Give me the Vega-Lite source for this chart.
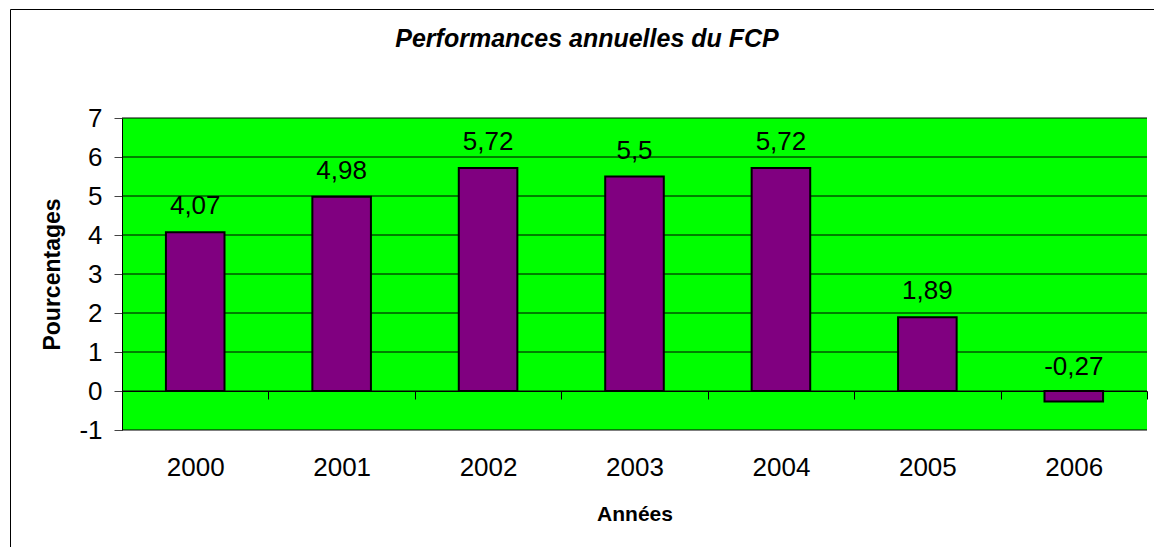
{
  "$schema": "https://vega.github.io/schema/vega-lite/v6.json",
  "width": 1154,
  "height": 548,
  "autosize": {"type": "none"},
  "padding": {"left": 10, "top": 9, "right": -10, "bottom": -10},
  "background": "white",
  "title": {
    "text": "Performances annuelles du FCP",
    "font": "Liberation Sans",
    "fontSize": 25,
    "fontStyle": "italic",
    "fontWeight": "bold",
    "color": "black",
    "anchor": "middle",
    "frame": "group",
    "orient": "top",
    "offset": 0,
    "baseline": "alphabetic",
    "dy": 63
  },
  "config": {
    "view": {"fill": "white", "stroke": "black", "strokeWidth": 1},
    "font": "Liberation Sans",
    "locale": {"number": {"decimal": ",", "thousands": " ", "grouping": [3], "currency": ["", ""], "minus": "-"}}
  },
  "datasets": {
    "perf": [
      {"year": "2000", "value": 4.07},
      {"year": "2001", "value": 4.98},
      {"year": "2002", "value": 5.72},
      {"year": "2003", "value": 5.5},
      {"year": "2004", "value": 5.72},
      {"year": "2005", "value": 1.89},
      {"year": "2006", "value": -0.27}
    ],
    "grid": [
      {"g": -1}, {"g": 0}, {"g": 1}, {"g": 2}, {"g": 3}, {"g": 4}, {"g": 5}, {"g": 6}, {"g": 7}
    ]
  },
  "resolve": {"scale": {"x": "independent"}},
  "layer": [
    {
      "data": {"values": [{"area": "plot"}]},
      "mark": {"type": "rect", "fill": "#00FF00"},
      "encoding": {
        "x": {"datum": 0, "type": "quantitative", "scale": {"domain": [0, 1], "range": [112, 1137]}, "axis": null},
        "x2": {"datum": 1},
        "y": {"datum": -1, "type": "quantitative", "scale": {"domain": [-1, 7], "range": [421, 109], "nice": false, "zero": false}, "axis": {"title": "Pourcentages", "orient": "left", "offset": -112, "grid": false, "domainColor": "black", "tickColor": "#444", "tickSize": 8, "labelPadding": 12, "labelFontSize": 26, "labelColor": "black", "titleFontSize": 23, "titleFontWeight": "bold", "titleColor": "black", "titlePadding": 14, "values": [-1, 0, 1, 2, 3, 4, 5, 6, 7], "format": "d", "zindex": 1}},
        "y2": {"datum": 7}
      }
    },
    {
      "data": {"name": "grid"},
      "mark": {"type": "rule", "color": "black", "strokeWidth": 1},
      "encoding": {
        "x": {"datum": 0, "type": "quantitative", "scale": {"domain": [0, 1], "range": [112, 1137]}, "axis": null},
        "x2": {"datum": 1},
        "y": {"field": "g", "type": "quantitative", "scale": {"domain": [-1, 7], "range": [421, 109], "nice": false, "zero": false}, "axis": {"title": "Pourcentages", "orient": "left", "offset": -112, "grid": false, "domainColor": "black", "tickColor": "#444", "tickSize": 8, "labelPadding": 12, "labelFontSize": 26, "labelColor": "black", "titleFontSize": 23, "titleFontWeight": "bold", "titleColor": "black", "titlePadding": 14, "values": [-1, 0, 1, 2, 3, 4, 5, 6, 7], "format": "d", "zindex": 1}}
      }
    },
    {
      "data": {"name": "perf"},
      "encoding": {
        "x": {"field": "year", "type": "nominal", "sort": null, "scale": {"type": "band", "range": [112, 1137], "paddingInner": 0, "paddingOuter": 0}, "axis": {"title": "Années", "orient": "bottom", "offset": -166, "tickBand": "extent", "tickSize": 8, "tickColor": "black", "domainColor": "black", "labelPadding": 55, "labelFontSize": 26, "labelAngle": 0, "labelColor": "black", "titleFontSize": 21, "titleFontWeight": "bold", "titlePadding": 23, "titleColor": "black", "grid": false, "zindex": 1}}
      },
      "layer": [
        {
          "mark": {"type": "bar", "fill": "#800080", "stroke": "black", "strokeWidth": 2, "width": {"band": 0.4}},
          "encoding": {
            "y": {"field": "value", "type": "quantitative", "scale": {"domain": [-1, 7], "range": [421, 109], "nice": false, "zero": false}, "axis": {"title": "Pourcentages", "orient": "left", "offset": -112, "grid": false, "domainColor": "black", "tickColor": "#444", "tickSize": 8, "labelPadding": 12, "labelFontSize": 26, "labelColor": "black", "titleFontSize": 23, "titleFontWeight": "bold", "titleColor": "black", "titlePadding": 14, "values": [-1, 0, 1, 2, 3, 4, 5, 6, 7], "format": "d", "zindex": 1}},
            "y2": {"datum": 0}
          }
        },
        {
          "transform": [{"filter": "datum.value >= 0"}],
          "mark": {"type": "text", "fontSize": 26, "baseline": "alphabetic", "align": "center", "dy": -18, "color": "black"},
          "encoding": {
            "y": {"field": "value", "type": "quantitative"},
            "text": {"field": "value", "type": "quantitative", "format": ".2~f"}
          }
        },
        {
          "transform": [{"filter": "datum.value < 0"}],
          "mark": {"type": "text", "fontSize": 26, "baseline": "alphabetic", "align": "center", "dy": -16, "color": "black"},
          "encoding": {
            "y": {"datum": 0, "type": "quantitative"},
            "text": {"field": "value", "type": "quantitative", "format": ".2~f"}
          }
        }
      ]
    }
  ]
}
